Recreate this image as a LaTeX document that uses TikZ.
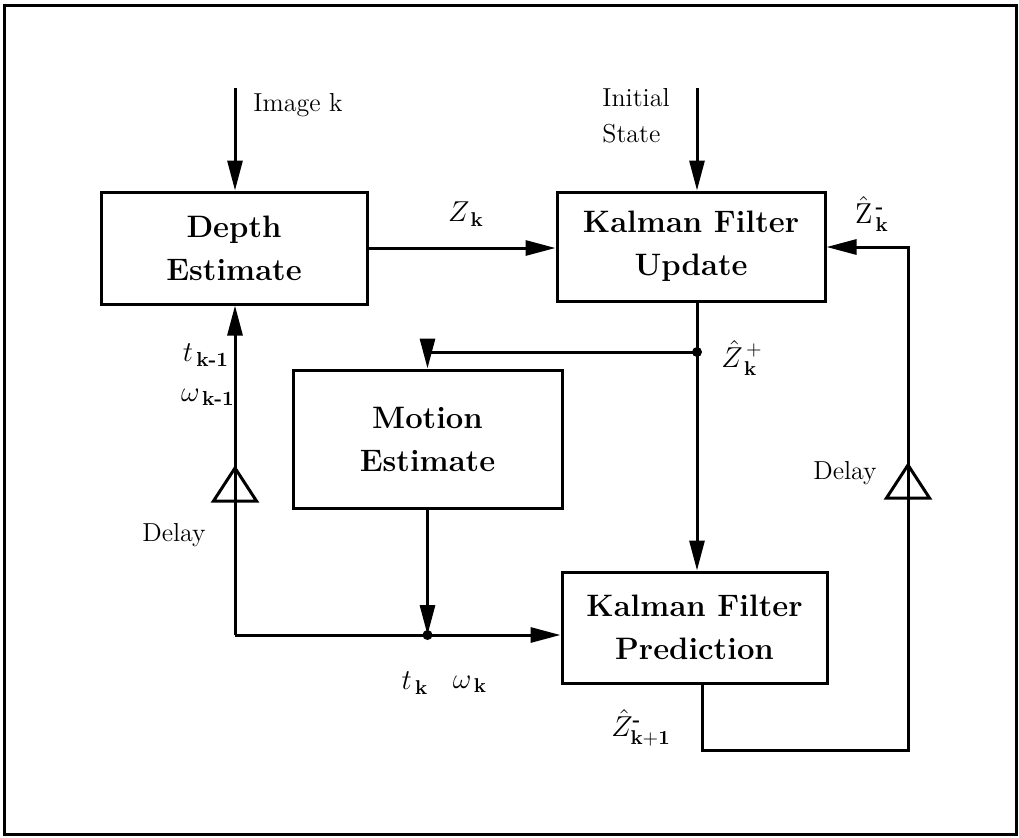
\documentclass[tikz,border=0pt]{standalone}
\usepackage{amsmath,amssymb}
\usepackage{tikz}
\usetikzlibrary{arrows.meta,positioning}
\tikzset{
  blockbox/.style={draw,line width=1.5pt,align=center,inner sep=0pt,
    font=\fontsize{15.5}{21.5}\selectfont\bfseries},
  wire/.style={line width=1.5pt},
  sig/.style={wire,-{Triangle[length=15pt,width=7.5pt]}},
  lbl/.style={font=\fontsize{13}{18}\selectfont,inner sep=1pt},
  mlbl/.style={font=\fontsize{14.5}{18}\selectfont,inner sep=1pt},
}
\newcommand{\delaytri}[1]{%
  \draw[wire,line join=miter] (#1) -- ++(-21.5,33) -- ++(43,0) -- cycle;
}

\begin{document}
\begin{tikzpicture}[x=0.5pt,y=-0.5pt]
  \useasboundingbox (0,0) rectangle (1019,837);
  \draw[wire] (4,5) rectangle (1016,834);
  \node[blockbox,minimum width=133pt,minimum height=56pt] (depth) at (234,248) {Depth\\Estimate};
  \node[blockbox,minimum width=134pt,minimum height=54.5pt] (update) at (691,246.5) {Kalman Filter\\Update};
  \node[blockbox,minimum width=134.5pt,minimum height=69pt] (motion) at (427.5,439) {Motion\\Estimate};
  \node[blockbox,minimum width=132.5pt,minimum height=55.5pt] (predict) at (694.5,627.5) {Kalman Filter\\Prediction};
  \coordinate (imgin) at (235,88);
  \coordinate (stin) at (697,88);
  \coordinate (plus) at (697,352);
  \coordinate (motin) at (427.5,352);
  \coordinate (tw) at (427.5,635);
  \coordinate (dlb) at (235,635);
  \coordinate (dl) at (235,468);
  \coordinate (dr) at (908,465);
  \coordinate (pdrop) at (702,750);
  \coordinate (fbout) at (908,750);
  \coordinate (fbin) at (908,247);
  \draw[sig] (imgin) -- (imgin |- depth.north);
  \draw[sig] (stin) -- (stin |- update.north);
  \draw[sig] (depth.east) -- (depth.east -| update.west);
  \draw[wire] (stin |- update.south) -- (plus);
  \draw[sig] (plus) -- (stin |- predict.north);
  \draw[sig] (plus) -- (motin) -- (motion.north);
  \draw[sig] (motion.south) -- (tw);
  \draw[sig] (dlb) -- (dlb -| predict.west);
  \draw[sig] (dlb) -- (dlb |- depth.south);
  \draw[sig] (pdrop |- predict.south) -- (pdrop) -- (fbout) -- (fbin) -- (fbin -| update.east);
  \fill (plus) circle (5);
  \fill (tw) circle (5);
  \delaytri{dl}
  \delaytri{dr}
  \node[lbl,anchor=west] (imglbl) at (251,105) {Image k};
  \node[lbl,anchor=west,align=left] (stlbl) at (600,116) {Initial\\State};
  \node[mlbl] (zk) at (466,214) {$Z_{\,\mathbf k}$};
  \node[mlbl] (zminus) at (872,214) {$\hat{\mathrm Z}^{\,\textbf{-}}_{\,\mathbf k}$};
  \node[mlbl] (zplus) at (742,358) {$\hat Z^{\,+}_{\,\mathbf k}$};
  \node[mlbl] (tprev) at (206,355) {$t_{\,\textbf{k-1}}$};
  \node[mlbl] (wprev) at (208,397) {$\omega_{\,\textbf{k-1}}$};
  \node[mlbl] (tnow) at (415,683) {$t_{\,\mathbf k}$};
  \node[mlbl] (wnow) at (470,684) {$\omega_{\,\mathbf k}$};
  \node[mlbl] (znext) at (641,728) {$\hat Z^{\textbf{-}}_{\mathbf{k+1}}$};
  \node[lbl] (dlbl) at (174,535) {Delay};
  \node[lbl] (drlbl) at (845,473) {Delay};
\end{tikzpicture}
\end{document}
